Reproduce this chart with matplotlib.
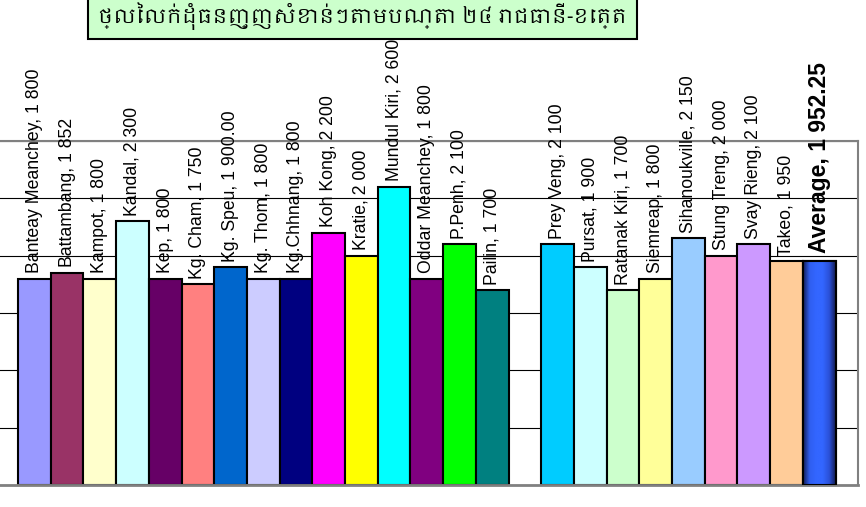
import numpy as np
import matplotlib
matplotlib.use("Agg")
import matplotlib.pyplot as plt
from matplotlib import font_manager
from matplotlib.patches import Rectangle
from matplotlib.colors import LinearSegmentedColormap

provinces = ["Banteay Meanchey", "Battambang", "Kampot", "Kandal", "Kep",
             "Kg. Cham", "Kg. Speu", "Kg. Thom", "Kg.Chhnang", "Koh Kong",
             "Kratie", "Mundul Kiri", "Oddar Meanchey", "P.Penh", "Pailin",
             "Preah Vihear", "Prey Veng", "Pursat", "Ratanak Kiri", "Siemreap",
             "Sihanoukville", "Stung Treng", "Svay Rieng", "Takeo", "Average"]
prices = [1800, 1852, 1800, 2300, 1800, 1750, 1900, 1800, 1800, 2200,
          2000, 2600, 1800, 2100, 1700, None, 2100, 1900, 1700, 1800,
          2150, 2000, 2100, 1950, 1952.25]
price_text = ["1 800", "1 852", "1 800", "2 300", "1 800", "1 750", "1 900.00",
              "1 800", "1 800", "2 200", "2 000", "2 600", "1 800", "2 100",
              "1 700", "", "2 100", "1 900", "1 700", "1 800", "2 150", "2 000",
              "2 100", "1 950", "1 952.25"]
colors = ["#9999FF", "#993366", "#FFFFCC", "#CCFFFF", "#660066", "#FF8080",
          "#0066CC", "#CCCCFF", "#000080", "#FF00FF", "#FFFF00", "#00FFFF",
          "#800080", "#00FF00", "#008080", "#FFFFFF", "#00CCFF", "#CCFFFF",
          "#CCFFCC", "#FFFF99", "#99CCFF", "#FF99CC", "#CC99FF", "#FFCC99",
          "#3366FF"]
title = "ថ្លៃលក់ដុំធនញ្ញសំខាន់ៗតាមបណ្តា ២៤ រាជធានី-ខេត្ត"

# look for any font with khmer glyphs, otherwise fall back
khmer = [f.name for f in font_manager.fontManager.ttflist if "khmer" in f.name.lower()]
title_family = khmer[:1] + ["Noto Sans", "DejaVu Sans"]

W, H = 866, 507
fig = plt.figure(figsize=(W / 100, H / 100), dpi=100)
ax_left, ax_right, ax_top, ax_bot = 0, 858, 141, 485
ax = fig.add_axes([ax_left / W, 1 - ax_bot / H, (ax_right - ax_left) / W, (ax_bot - ax_top) / H])

slot = 32.7
x0 = -0.5 - 18 / slot
ax.set_xlim(x0, x0 + (ax_right - ax_left) / slot)
ax.set_ylim(0, 3000)

x = np.arange(len(provinces))
vals = [np.nan if v is None else v for v in prices]
bars = ax.bar(x, vals, width=1.0, color=colors, edgecolor="black", linewidth=1.5, zorder=2)

# gradient fill on the average bar
avg = bars[-1]
cmap = LinearSegmentedColormap.from_list("avg", ["#141c55", "#2f5ef0", "#3366FF", "#3366FF", "#2a50d8", "#121a4e"])
grad = np.linspace(0, 1, 200).reshape(1, -1)
img = ax.imshow(grad, cmap=cmap, aspect="auto", zorder=2.5,
                extent=[avg.get_x(), avg.get_x() + avg.get_width(), 0, avg.get_height()])
img.set_clip_path(avg)
ax.add_patch(Rectangle((avg.get_x(), 0), avg.get_width(), avg.get_height(),
                       fill=False, edgecolor="black", linewidth=1.5, zorder=3))

for i, (name, v, t) in enumerate(zip(provinces, prices, price_text)):
    if v is None:
        continue
    if name == "Average":
        ax.annotate(f"{name}, {t}", xy=(i, v), xytext=(0, 6), textcoords="offset points",
                    rotation=90, ha="center", va="bottom", fontsize=16.5, fontweight="bold",
                    family="Liberation Sans", annotation_clip=False, zorder=4)
    else:
        ax.annotate(f"{name}, {t}", xy=(i, v), xytext=(0, 4), textcoords="offset points",
                    rotation=90, ha="center", va="bottom", fontsize=12.7,
                    family="Liberation Sans", annotation_clip=False, zorder=4)

ax.set_yticks(np.arange(0, 3001, 500))
ax.yaxis.grid(True, color="black", linewidth=0.8)
ax.set_axisbelow(True)
ax.tick_params(left=False, bottom=False, labelleft=False, labelbottom=False)
ax.set_xticks([])
ax.spines["left"].set_visible(False)
for s in ["top", "right"]:
    ax.spines[s].set_color("#808080")
    ax.spines[s].set_linewidth(1.5)
ax.spines["bottom"].set_color("#808080")
ax.spines["bottom"].set_linewidth(2)

# title box
fig.patches.append(Rectangle((88 / W, 1 - 39 / H), (637 - 88) / W, 0.2,
                             transform=fig.transFigure, facecolor="#CCFFCC",
                             edgecolor="black", linewidth=1.5, zorder=5))
fig.text(362 / W, 1 - 16 / H, title, ha="center", va="center", fontsize=14.5,
         fontweight="bold", family=title_family, zorder=6)

fig.savefig("out.png", dpi=100)
